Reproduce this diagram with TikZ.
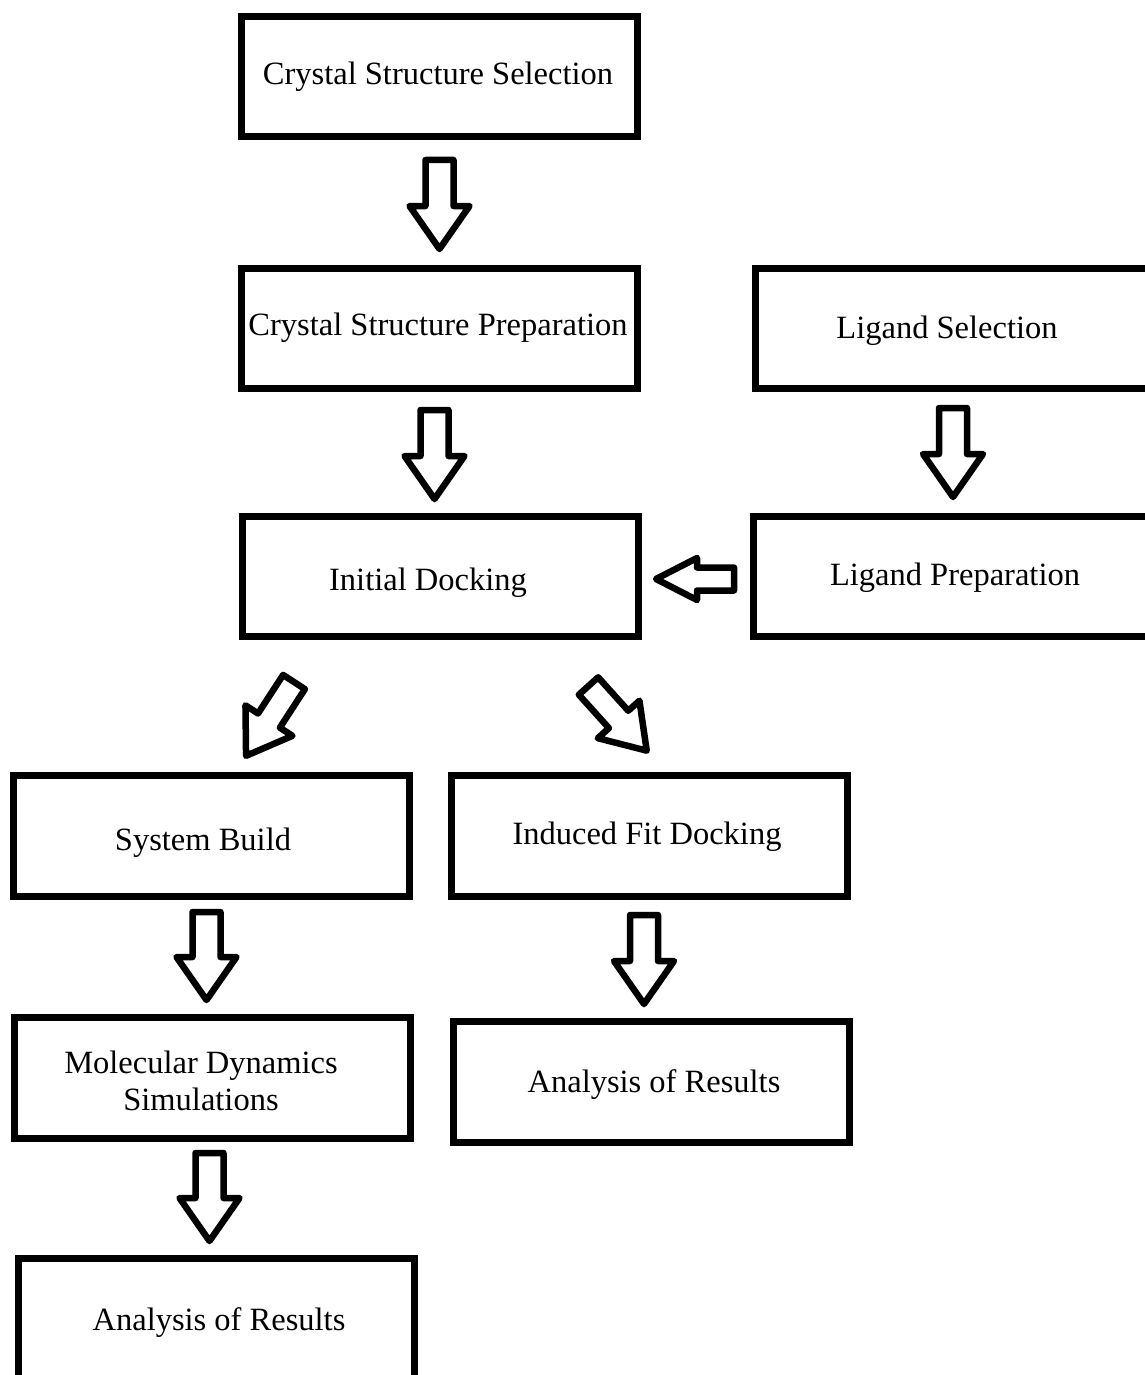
\documentclass[tikz,border=0pt]{standalone}
\usepackage{fontspec}
\setmainfont{Liberation Serif}
\begin{document}
\begin{tikzpicture}[x=1pt,y=-1pt,
  box/.style={draw=black, line width=7pt, fill=none, inner sep=0pt, minimum width=396pt, minimum height=120pt},
  lbl/.style={anchor=base, inner sep=0pt, font=\fontsize{32.5}{37}\selectfont, align=center},
  arrowline/.style={draw=black, line width=6.5pt, line join=round, fill=white},
  pics/barrow/.style n args={4}{code={
    \draw[arrowline] (-#2,0) -- (#2,0) -- (#2,#1-#4) -- (#3,#1-#4) -- (0,#1)
      -- (-#3,#1-#4) -- (-#2,#1-#4) -- cycle;
  }}
]
\useasboundingbox[fill=white] (0,0) rectangle (1144,1375);

% boxes
\node[box] (css) at (439,76.5) {};
\node[box] (csp) at (439,328.5) {};
\node[box, minimum width=401pt] (ls) at (955.5,328.5) {};
\node[box] (id) at (440.5,576.5) {};
\node[box, minimum width=403pt] (lp) at (954.5,576.5) {};
\node[box, minimum height=121pt] (sb) at (211.5,836) {};
\node[box, minimum height=121pt] (ifd) at (649.5,836) {};
\node[box, minimum height=121pt] (md) at (212.5,1078) {};
\node[box, minimum height=121pt] (ar2) at (651.5,1082) {};
\node[box, minimum height=121pt] (ar1) at (216.5,1319) {};

% labels
\node[lbl] (tcss) at (438,85) {Crystal Structure Selection};
\node[lbl] (tcsp) at (438,335) {Crystal Structure Preparation};
\node[lbl] (tls) at (947,338) {Ligand Selection};
\node[lbl] (tid) at (428,590) {Initial Docking};
\node[lbl] (tlp) at (955,585) {Ligand Preparation};
\node[lbl] (tsb) at (203,850) {System Build};
\node[lbl] (tifd) at (647,844) {Induced Fit Docking};
\node[lbl, anchor=north] (tmd) at (201,1051) {Molecular Dynamics\\Simulations};
\node[lbl] (tar2) at (654,1092) {Analysis of Results};
\node[lbl] (tar1) at (219,1330) {Analysis of Results};

% block arrows
\pic at (439.5,160) {barrow={89}{14}{30}{43}};
\pic at (434.5,410) {barrow={89}{14}{30}{43}};
\pic at (953,408) {barrow={89}{14}{30}{43}};
\pic[rotate=-90] at (734,579) {barrow={78}{11.5}{21}{41}};
\pic[rotate=-33] at (294,682) {barrow={88}{13}{28}{42}};
\pic[rotate=42] at (588.5,686) {barrow={87}{13}{28}{42}};
\pic at (206.5,912) {barrow={88}{14}{30}{43}};
\pic at (644,915) {barrow={89}{14}{30}{43}};
\pic at (209.5,1153) {barrow={88}{14}{30}{43}};
\end{tikzpicture}
\end{document}
